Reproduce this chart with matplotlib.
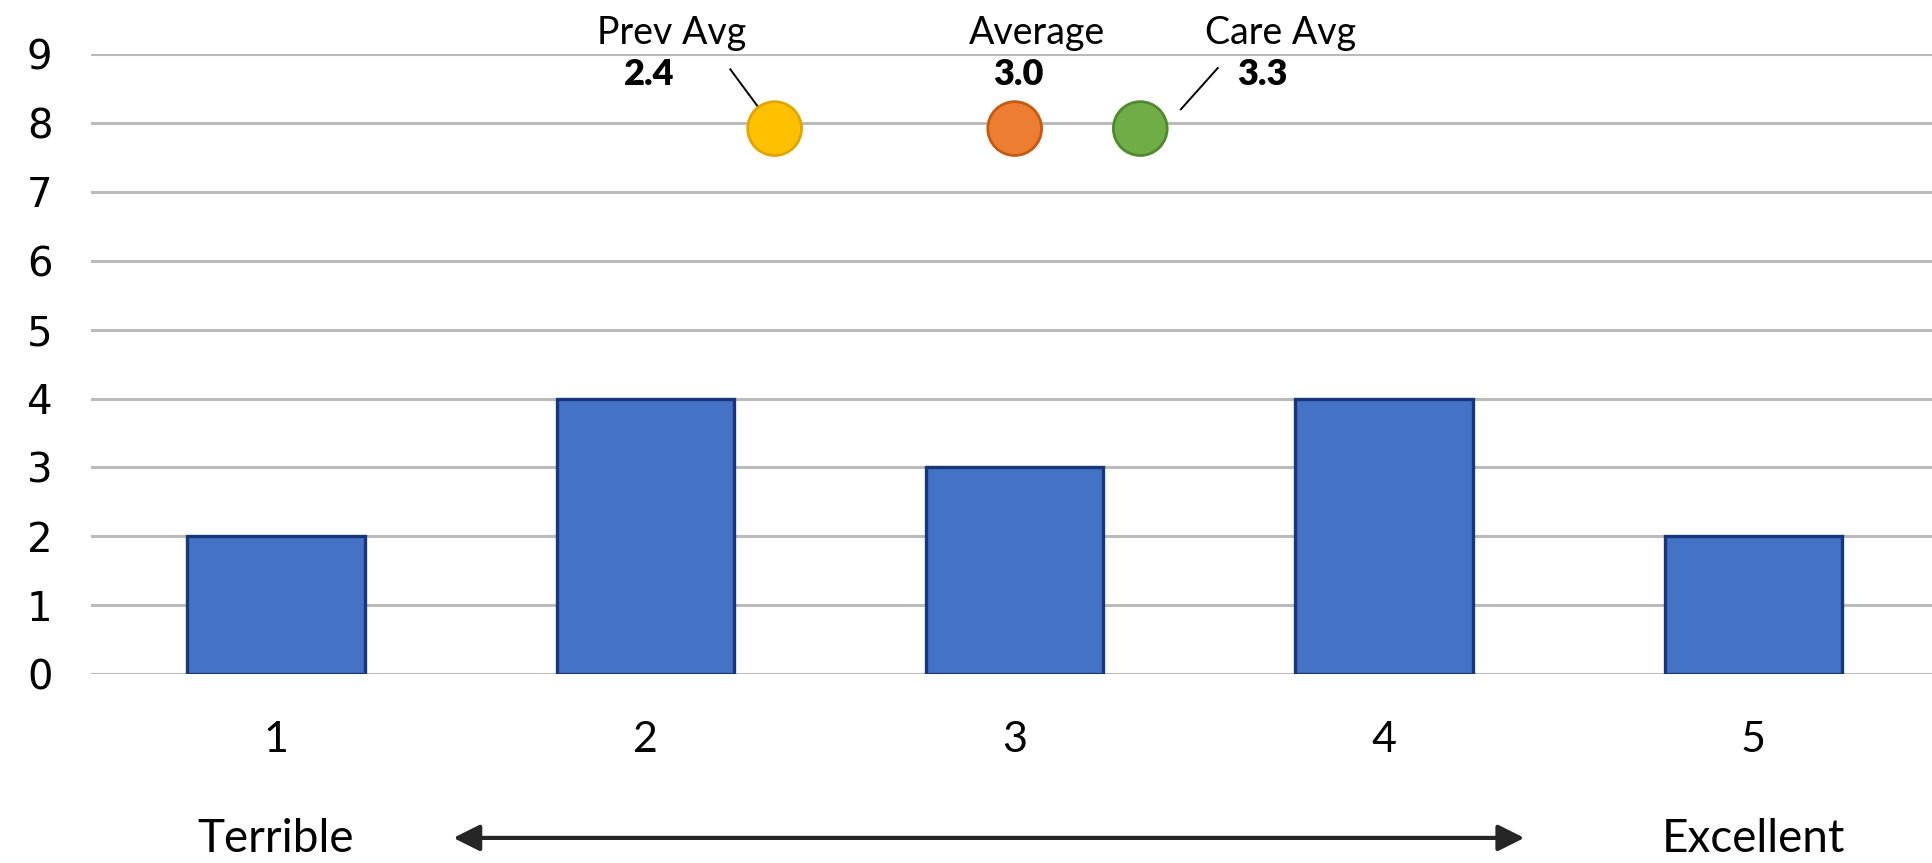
import matplotlib
matplotlib.use('Agg')
from matplotlib import pyplot as plt

ratings = [1, 2, 3, 4, 5]
counts = [2, 4, 3, 4, 2]

avg_names = ['Prev Avg', 'Average', 'Care Avg']
avg_values = [2.35, 3.0, 3.34]
avg_height = 7.92
avg_colors = ['#FFC000', '#ED7D31', '#70AD47']
avg_edges = ['#E2A500', '#C55A11', '#4E8A2E']

scale_left = 'Terrible'
scale_right = 'Excellent'

label_font = 'Lato'

fig = plt.figure(figsize=(19.32, 8.63), dpi=100)
ax = fig.add_axes([0.0473, 0.219, 0.9558, 0.7182])

# horizontal gridlines behind everything
for yv in range(0, 10):
    ax.axhline(yv, color='#BBBBBB', lw=2.2, zorder=0)

ax.bar(ratings, counts, width=0.48, color='#4472C4',
       edgecolor='#17377A', linewidth=2.4, zorder=2)

ax.scatter(avg_values, [avg_height] * len(avg_values), s=1500,
           c=avg_colors, edgecolors=avg_edges, linewidths=2, zorder=4,
           clip_on=False)

# name / value labels offset from each marker
name_dx = [-0.28, 0.06, 0.38]
value_dx = [-0.34, 0.01, 0.33]
for x, name, ndx, vdx in zip(avg_values, avg_names, name_dx, value_dx):
    ax.text(x + ndx, 9.31, name, ha='center', va='center',
            fontsize=27, family=label_font, clip_on=False)
    ax.text(x + vdx, 8.7, '%.1f' % x, ha='center', va='center',
            fontsize=26, family=label_font, fontweight='heavy', clip_on=False)

# leader lines for the two outer labels
ax.plot([avg_values[0] - 0.12, avg_values[0] - 0.04], [8.78, 8.2],
        color='black', lw=1.4, zorder=3)
ax.plot([avg_values[2] + 0.21, avg_values[2] + 0.11], [8.8, 8.2],
        color='black', lw=1.4, zorder=3)

ax.set_xlim(0.5, 5.5)
ax.set_ylim(0, 9)
ax.set_yticks(range(0, 10))
ax.set_xticks(ratings)
ax.set_xticklabels([str(r) for r in ratings], family=label_font, fontsize=31)
for lbl in ax.get_yticklabels():
    lbl.set_family('DejaVu Sans')
    lbl.set_fontsize(29)
ax.tick_params(axis='y', length=0, pad=28)
ax.tick_params(axis='x', length=0, pad=34)
for s in ax.spines.values():
    s.set_visible(False)

# scale ends and the double arrow between them
ax.text(ratings[0], -2.39, scale_left, ha='center', va='center',
        fontsize=33, family=label_font, clip_on=False)
ax.text(ratings[-1], -2.39, scale_right, ha='center', va='center',
        fontsize=33, family=label_font, clip_on=False)
ax.annotate('', xy=(4.38, -2.38), xytext=(1.48, -2.38),
            annotation_clip=False,
            arrowprops=dict(arrowstyle='<|-|>', color='#262626', lw=3,
                            mutation_scale=40, shrinkA=0, shrinkB=0))

fig.savefig('out.png', dpi=100)
